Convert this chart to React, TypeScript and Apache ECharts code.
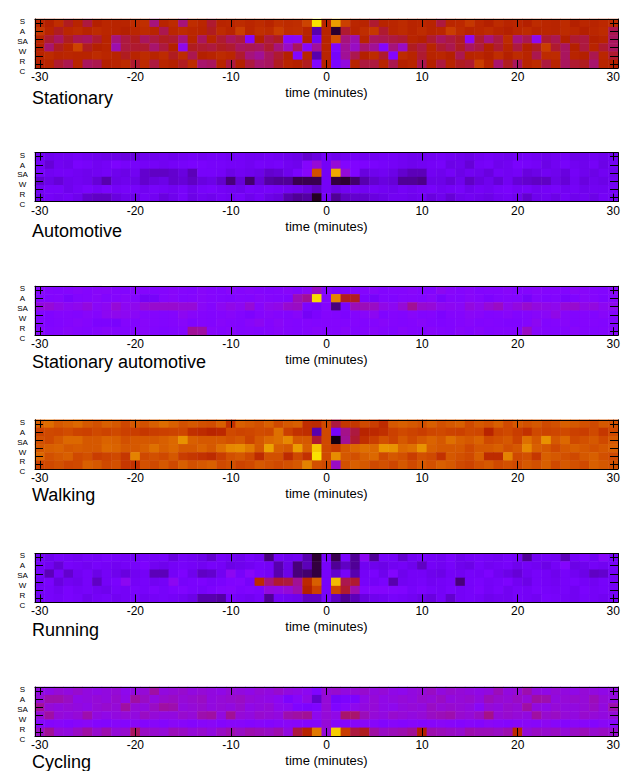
import React, { useEffect, useRef } from "react";
import * as echarts from "echarts";

// ---- categories ----
const minutes: string[] = [];
for (let m = -30; m <= 30; m++) minutes.push(String(m));
const rowLabels = ["S", "A", "SA", "W", "R", "C"];
const panelTitles = ["Stationary", "Automotive", "Stationary automotive", "Walking", "Running", "Cycling"];
const xTitle = "time (minutes)";

// helper: left (-30..-1), minute 0, right (1..30)
const row = (left: number[], zero: number, right: number[]) => [...left, zero, ...right];

// ---- values (0..100), rows S, A, SA, W, R, C ----
const stationary = [
  row([53,50,56,48,52,46,50,53,52,52,55,57,42,52,55,42,56,53,47,52,53,55,53,55,52,57,55,56,64,96], 52,
      [85,63,53,52,47,52,53,55,52,53,52,46,53,54,60,53,50,55,52,53,50,55,53,52,55,50,53,52,54,55]),
  row([60,52,48,53,55,52,55,53,52,50,53,55,52,45,53,55,53,52,48,55,52,62,53,57,55,62,56,57,52,12], 52,
      [3,47,52,56,60,47,53,55,52,55,52,53,62,55,52,53,55,52,50,53,55,52,53,52,55,53,50,53,55,45]),
  row([52,47,44,48,45,44,47,52,42,46,48,44,46,48,47,42,52,44,52,47,44,46,27,50,46,48,28,29,50,20], 52,
      [68,42,38,52,44,45,46,47,52,50,47,44,46,48,30,47,42,46,55,42,45,31,47,45,50,47,46,50,52,44]),
  row([50,43,48,52,64,48,50,52,38,46,47,47,43,46,50,31,48,47,46,48,47,44,45,44,47,42,36,44,28,40], 52,
      [25,40,36,43,40,27,42,36,48,46,52,47,45,48,44,46,50,47,52,46,50,48,62,47,44,50,46,52,47,44]),
  row([52,55,52,53,52,52,55,53,52,48,52,55,52,55,48,55,45,50,52,55,53,47,42,40,44,47,50,26,52,12], 52,
      [22,40,45,50,55,47,27,55,52,47,52,53,50,45,52,53,50,56,50,55,52,45,55,55,44,52,50,45,53,47]),
  row([50,52,47,45,52,44,45,50,52,55,47,55,46,52,50,48,55,43,44,52,46,50,46,43,44,48,52,50,48,26], 52,
      [24,33,52,46,46,52,45,50,52,45,50,46,52,48,47,62,52,43,48,44,52,55,46,52,44,47,48,43,52,50]),
];

const automotive = [
  row([20,19,20,20,21,20,19,18,18,17,17,19,19,20,19,20,21,20,21,21,20,21,20,20,21,20,19,18,15,17], 21,
      [19,20,21,20,20,21,21,20,19,19,20,21,20,19,18,20,21,20,19,20,21,20,19,20,21,18,19,20,19,20]),
  row([21,16,20,19,23,22,20,21,24,22,22,21,21,20,21,22,23,23,22,22,21,21,20,22,21,22,20,19,27,34], 21,
      [34,26,25,24,23,22,21,20,19,20,21,22,18,19,16,21,22,19,20,23,22,21,18,20,22,20,19,21,18,20]),
  row([22,20,21,21,20,19,20,21,19,18,20,15,14,14,15,17,13,22,22,21,18,20,19,18,15,16,19,23,28,68], 21,
      [87,34,25,17,19,20,18,15,13,13,20,19,21,18,20,19,17,21,20,21,17,18,20,19,17,21,19,18,20,19]),
  row([15,18,16,19,20,19,16,12,18,19,18,15,17,18,15,16,14,17,18,15,8,16,7,16,11,10,10,5,5,5], 21,
      [4,3,7,12,15,17,16,10,10,9,18,18,16,19,14,17,19,16,20,16,15,14,14,18,16,20,17,19,18,20]),
  row([20,22,22,19,21,23,21,23,21,22,22,20,22,21,20,22,19,22,23,21,20,19,22,21,22,21,20,19,17,14], 21,
      [18,20,21,20,21,20,19,21,20,21,22,20,21,22,19,21,20,22,23,21,22,20,21,22,20,21,19,20,20,21]),
  row([18,21,20,21,19,15,14,14,17,19,18,21,20,17,19,22,18,20,19,21,20,22,19,21,18,17,12,10,11,2], 21,
      [10,14,15,15,17,18,20,20,19,20,17,19,16,19,20,19,18,20,21,19,15,19,20,18,21,19,20,18,21,20]),
];

const stationaryAutomotive = [
  row([28,27,26,27,28,27,28,28,27,26,28,27,26,27,28,27,26,28,27,26,28,27,28,27,26,27,28,26,29,36], 27,
      [24,24,26,27,28,26,27,27,28,27,26,30,28,27,28,26,27,27,28,26,27,28,27,27,26,29,28,27,26,28]),
  row([27,26,27,23,26,27,28,26,27,28,27,21,22,27,28,26,27,28,27,26,25,27,26,28,27,26,25,37,40,95], 27,
      [80,48,48,24,22,26,25,27,27,26,28,23,27,26,28,27,24,26,27,26,22,27,25,26,23,25,28,27,25,27]),
  row([33,34,32,30,31,33,29,30,34,30,31,34,35,35,35,34,34,29,27,30,32,30,34,28,31,32,35,36,24,22], 27,
      [8,23,37,37,36,32,30,34,40,35,34,31,30,29,33,31,34,36,31,33,35,33,32,31,34,35,32,33,30,31]),
  row([26,25,27,27,26,28,27,30,31,30,29,27,27,26,27,30,28,27,26,27,28,26,24,27,28,27,26,28,21,24], 27,
      [26,24,27,28,30,25,27,26,28,26,27,24,27,27,29,28,26,27,28,26,27,28,29,32,28,26,27,26,28,27]),
  row([27,25,26,27,28,27,24,24,23,27,26,28,27,26,27,28,25,27,26,28,27,26,28,30,27,29,27,26,27,26], 27,
      [27,26,27,26,27,28,27,26,27,28,26,25,26,27,28,26,27,26,25,25,27,30,26,27,28,26,27,27,26,27]),
  row([28,26,27,28,27,26,27,28,27,26,27,28,26,25,26,27,40,39,28,27,28,26,27,26,27,28,27,26,27,28], 27,
      [27,28,26,27,28,27,26,28,27,26,28,27,26,28,27,28,26,27,27,27,36,28,27,26,27,28,27,26,27,28]),
];

const walking = [
  row([72,75,70,72,74,70,68,72,70,65,70,68,72,75,72,68,70,68,67,72,58,72,70,68,72,66,70,72,56,55], 66,
      [46,60,60,66,62,55,70,72,70,68,72,68,70,72,66,70,68,72,66,70,68,70,66,68,72,70,68,66,70,68]),
  row([64,66,65,67,64,63,66,64,66,63,62,60,62,63,64,65,57,55,52,54,66,64,65,67,66,76,63,58,56,12], 66,
      [22,41,46,52,54,57,63,66,64,62,65,66,64,63,66,65,52,64,66,62,58,66,64,65,66,63,62,66,60,66]),
  row([68,66,70,74,74,70,70,73,72,68,70,70,70,72,74,83,72,70,70,70,68,70,64,70,74,76,81,70,70,47], 66,
      [1,40,47,57,62,68,64,70,66,70,73,70,76,72,70,73,66,68,70,64,76,70,83,70,74,66,68,70,66,70]),
  row([70,72,73,70,71,70,70,74,73,70,70,72,76,72,74,70,70,73,70,76,81,82,78,70,86,72,70,85,72,92], 66,
      [62,70,74,76,74,84,83,74,76,83,72,70,70,70,66,70,70,72,68,70,81,72,70,66,70,72,70,68,70,72]),
  row([74,68,70,72,66,68,62,64,66,60,80,66,68,66,70,62,60,58,55,62,68,70,66,55,68,68,55,66,58,96], 66,
      [82,70,68,72,74,66,70,68,62,68,66,58,70,68,66,72,55,55,80,66,68,60,72,70,68,66,70,72,68,66]),
  row([64,66,68,65,66,72,70,66,68,60,58,68,66,70,66,72,68,70,72,66,68,64,66,70,68,66,68,70,80,68], 66,
      [36,68,72,70,66,68,65,70,66,70,68,72,70,66,64,68,70,66,68,66,70,68,72,66,70,68,66,72,70,68]),
];

const running = [
  row([20,19,22,21,20,22,21,23,22,21,20,22,21,22,17,21,20,18,15,21,20,19,22,20,8,21,19,20,12,3], 22,
      [5,23,10,30,10,22,21,15,20,22,21,20,23,19,21,22,21,20,22,21,10,20,21,20,13,21,24,20,28,21]),
  row([21,20,16,22,21,20,22,21,20,21,22,24,20,19,21,22,21,20,22,21,18,19,20,22,21,12,18,8,13,4], 22,
      [10,14,10,20,19,18,20,21,19,14,21,20,22,19,18,22,20,21,22,19,21,20,18,21,27,18,19,21,20,22]),
  row([22,13,21,15,20,22,18,21,19,17,20,21,13,13,21,24,19,14,15,20,30,22,28,23,21,12,18,8,7,4], 22,
      [15,22,12,21,23,19,26,19,21,21,19,18,21,20,22,21,24,20,18,16,20,22,21,19,22,20,18,14,15,21]),
  row([20,23,17,20,19,22,14,21,23,30,21,22,20,21,30,22,23,24,22,23,25,26,22,55,42,47,46,40,54,72], 22,
      [90,45,47,22,21,23,12,20,21,22,20,21,22,8,22,23,21,22,24,20,18,22,21,20,22,23,21,20,22,21]),
  row([21,22,20,23,21,22,20,19,22,21,23,22,24,22,24,25,23,22,24,26,27,24,25,24,33,32,34,38,50,63], 22,
      [65,47,38,26,27,27,26,25,22,24,22,21,23,21,22,24,21,23,20,22,21,23,22,21,22,20,23,21,22,21]),
  row([20,22,21,23,22,19,21,22,20,21,22,20,21,22,21,20,18,12,12,11,22,21,20,22,10,21,20,19,14,14], 22,
      [14,10,13,17,19,20,22,21,20,18,17,21,15,21,22,21,19,20,20,22,21,20,23,22,21,20,22,21,20,21]),
];

const cycling = [
  row([33,32,34,33,35,33,32,33,34,31,33,34,39,33,34,35,33,34,33,32,34,33,32,34,33,35,33,32,30,25], 34,
      [35,33,34,35,33,34,32,31,33,34,36,33,35,34,33,32,33,37,33,34,38,33,32,34,33,32,34,33,32,33]),
  row([34,38,38,36,32,33,34,33,35,32,39,36,33,35,36,34,35,36,33,34,35,36,34,33,32,30,24,28,32,15], 34,
      [22,24,24,32,34,32,33,34,33,35,34,36,33,34,35,33,37,35,34,36,34,39,38,33,34,35,34,37,34,33]),
  row([40,34,33,34,33,32,34,35,34,39,34,33,36,39,38,33,34,35,33,34,33,35,32,33,34,31,30,25,24,25], 34,
      [25,28,31,33,34,32,31,33,34,33,36,34,35,34,33,29,34,33,35,34,39,33,32,34,33,33,34,36,33,38]),
  row([34,39,34,33,34,38,33,32,33,34,33,36,34,33,33,35,34,38,39,33,40,34,33,35,34,33,38,39,40,31], 34,
      [32,43,43,37,34,33,35,34,33,34,36,37,38,35,34,36,41,34,35,34,33,39,35,36,34,33,35,34,33,34]),
  row([28,27,28,27,28,29,27,26,28,27,29,27,28,27,29,28,27,28,29,27,28,28,27,28,27,28,29,28,27,27], 34,
      [28,27,28,29,28,26,28,27,28,27,28,29,28,27,28,27,29,28,27,28,29,28,30,28,27,29,28,27,29,28]),
  row([36,40,34,33,36,39,35,38,34,35,44,36,35,34,37,36,34,35,33,36,38,36,38,37,36,38,33,46,52,78], 34,
      [93,62,46,48,39,36,37,38,40,50,38,37,36,35,38,37,37,36,38,55,34,36,35,36,34,36,37,35,36,35]),
];

const panels = [stationary, automotive, stationaryAutomotive, walking, running, cycling];

// gnuplot default palette (rgbformulae 7,5,15)
const palette: string[] = [];
for (let i = 0; i <= 64; i++) {
  const t = i / 64;
  const r = Math.sqrt(t);
  const g = t * t * t;
  const b = Math.max(0, Math.sin(2 * Math.PI * t));
  const h = (v: number) => Math.round(Math.min(1, Math.max(0, v)) * 255).toString(16).padStart(2, "0");
  palette.push("#" + h(r) + h(g) + h(b));
}

const FONT = "'Liberation Sans', Arial, Helvetica, sans-serif";
const GRID_LEFT = 35;
const GRID_W = 583;
const GRID_H = 49;
const FIRST_TOP = 19;
const STEP = 133.6;
const TITLE_Y = [98, 231, 362, 495, 630, 762];

const tenth = (_i: number, v: string) => Number(v) % 10 === 0;

export default function App() {
  const ref = useRef<HTMLDivElement>(null);
  useEffect(() => {
    if (!ref.current) return;
    const chart = echarts.init(ref.current, undefined, { renderer: "svg" });
    const grids: any[] = [];
    const xAxes: any[] = [];
    const yAxes: any[] = [];
    const series: any[] = [];
    const graphics: any[] = [];
    const axisLine = { show: true, lineStyle: { color: "#000", width: 1 } };
    panels.forEach((rows, p) => {
      const top = FIRST_TOP + STEP * p;
      grids.push({ left: GRID_LEFT, top, width: GRID_W, height: GRID_H, containLabel: false });
      const xTick = { show: true, inside: true, length: 8, alignWithLabel: true, interval: tenth, lineStyle: { color: "#000", width: 1 } };
      xAxes.push({
        type: "category", gridIndex: p, data: minutes, position: "bottom", z: 5,
        axisLine, axisTick: xTick,
        axisLabel: { show: true, interval: tenth, margin: 3, fontSize: 12, lineHeight: 12, color: "#000", fontFamily: FONT },
        splitLine: { show: false },
        name: xTitle, nameLocation: "middle", nameGap: 18,
        nameTextStyle: { fontSize: 13, lineHeight: 13, color: "#000", fontFamily: FONT },
      });
      xAxes.push({
        type: "category", gridIndex: p, data: minutes, position: "top", z: 5,
        axisLine, axisTick: xTick, axisLabel: { show: false }, splitLine: { show: false },
      });
      const yTick = { show: true, inside: true, length: 8, alignWithLabel: true, interval: 0, lineStyle: { color: "#000", width: 1 } };
      yAxes.push({
        type: "category", gridIndex: p, data: rowLabels, inverse: true, position: "left", z: 5,
        axisLine, axisTick: yTick, axisLabel: { show: false }, splitLine: { show: false },
      });
      yAxes.push({
        type: "category", gridIndex: p, data: rowLabels, inverse: true, position: "right", z: 5,
        axisLine, axisTick: yTick, axisLabel: { show: false }, splitLine: { show: false },
      });
      const data: number[][] = [];
      rows.forEach((vals, r) => vals.forEach((v, c) => data.push([c, r, v])));
      series.push({
        type: "heatmap", xAxisIndex: p * 2, yAxisIndex: p * 2, data,
        itemStyle: { borderWidth: 0 }, emphasis: { disabled: true }, progressive: 0,
      });
      rowLabels.forEach((lab, i) => {
        graphics.push({
          type: "text", x: 22.5, y: top + 2.5 + 9.9 * i, silent: true,
          style: { text: lab, fontSize: 8, lineHeight: 8, fontFamily: FONT, fill: "#000", textAlign: "center", textVerticalAlign: "middle" },
        });
      });
      graphics.push({
        type: "text", x: 32, y: TITLE_Y[p], silent: true,
        style: { text: panelTitles[p], fontSize: 18, lineHeight: 15, fontFamily: FONT, fill: "#000", textAlign: "left", textVerticalAlign: "middle" },
      });
    });
    chart.setOption({
      animation: false,
      backgroundColor: "#fff",
      grid: grids,
      xAxis: xAxes,
      yAxis: yAxes,
      visualMap: [{ type: "continuous", min: 0, max: 100, show: false, inRange: { color: palette }, seriesIndex: [0, 1, 2, 3, 4, 5] }],
      series,
      graphic: graphics,
    });
    return () => chart.dispose();
  }, []);
  return <div ref={ref} style={{ position: "absolute", left: 0, top: 0, width: 630, height: 771 }} />;
}
